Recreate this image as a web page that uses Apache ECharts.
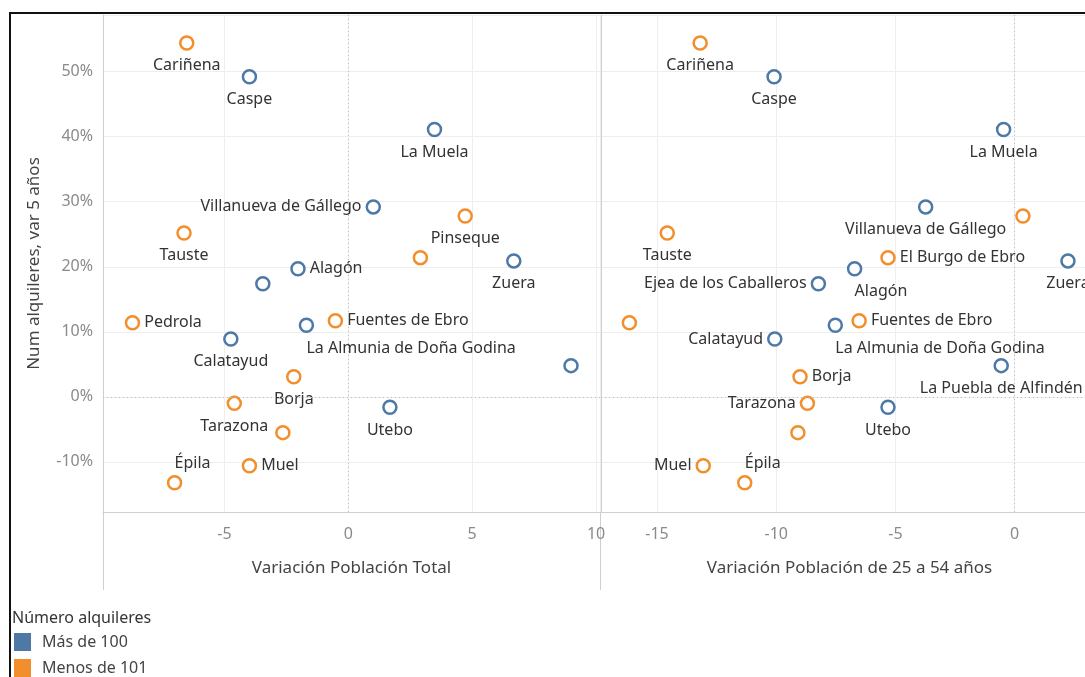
<!DOCTYPE html>
<html>
<head>
<meta charset="utf-8">
<script src="https://cdn.jsdelivr.net/npm/echarts@6/dist/echarts.min.js"></script>
<style>
  html, body { margin: 0; padding: 0; background: #fff; }
  #chart { width: 1085px; height: 677px; }
</style>
</head>
<body>
<div id="chart"></div>
<script>
// municipios y grupo de alquileres
var towns = ['Cariñena', 'Caspe', 'La Muela', 'Villanueva de Gállego', 'Pinseque', 'Tauste',
    'El Burgo de Ebro', 'Zuera', 'Alagón', 'Ejea de los Caballeros', 'Pedrola',
    'La Almunia de Doña Godina', 'Fuentes de Ebro', 'Calatayud', 'La Puebla de Alfindén',
    'Borja', 'Tarazona', 'Utebo', 'Otro municipio', 'Muel', 'Épila'];
var groups = ['Menos de 101', 'Más de 100', 'Más de 100', 'Más de 100', 'Menos de 101', 'Menos de 101',
    'Menos de 101', 'Más de 100', 'Más de 100', 'Más de 100', 'Menos de 101',
    'Más de 100', 'Menos de 101', 'Más de 100', 'Más de 100',
    'Menos de 101', 'Menos de 101', 'Más de 100', 'Menos de 101', 'Menos de 101', 'Menos de 101'];
// Variación Población Total
var popTotal = [-6.52, -3.99, 3.48, 1.01, 4.72, -6.63, 2.91, 6.68, -2.03, -3.45, -8.71,
    -1.69, -0.52, -4.74, 8.99, -2.20, -4.60, 1.68, -2.64, -3.99, -7.01];
// Variación Población de 25 a 54 años
var pop2554 = [-13.19, -10.09, -0.46, -3.73, 0.35, -14.57, -5.31, 2.24, -6.71, -8.23, -16.16,
    -7.52, -6.52, -10.06, -0.56, -9.00, -8.69, -5.31, -9.09, -13.06, -11.32];
// Num alquileres, var 5 años (%)
var rentVar = [54.4, 49.2, 41.1, 29.2, 27.8, 25.2, 21.4, 20.9, 19.7, 17.4, 11.4,
    11.0, 11.7, 8.9, 4.8, 3.1, -1.0, -1.6, -5.5, -10.6, -13.2];

// colocación de etiquetas (null = sin etiqueta)
var labelsLeft = ['bottom', 'bottom', 'bottom', 'left', 'bottom', 'bottom', null, 'bottom', 'right', null, 'right',
    'bottomStart', 'right', 'bottom', null, 'bottom', 'bottom', 'bottom', null, 'right', 'topStart'];
var labelsRight = ['bottom', 'bottom', 'bottom', 'bottom', null, 'bottom', 'right', 'bottom', 'bottomStart', 'left', null,
    'bottomStart', 'right', 'left', 'bottom', 'right', 'left', 'bottom', null, 'left', 'topStart'];

var colors = { 'Más de 100': '#4e79a7', 'Menos de 101': '#f28e2b' };
var FONT = 'Noto Sans';

function labelFor(pos) {
    if (!pos) return { show: false };
    var l = { show: true, position: pos, distance: 4 };
    if (pos === 'bottom') { l.distance = 7; }
    if (pos === 'bottomStart') { l.position = 'bottom'; l.align = 'left'; l.distance = 7; }
    if (pos === 'topStart') { l.position = 'top'; l.align = 'left'; }
    return l;
}

function makeSeries(group, xs, placements, idx) {
    var data = [];
    for (var i = 0; i < towns.length; i++) {
        if (groups[i] !== group) continue;
        data.push({ name: towns[i], value: [xs[i], rentVar[i]], label: labelFor(placements[i]) });
    }
    return {
        name: group,
        type: 'scatter',
        xAxisIndex: idx,
        yAxisIndex: idx,
        symbol: 'circle',
        symbolSize: 13,
        itemStyle: { color: '#fff', borderColor: colors[group], borderWidth: 2.5, opacity: 1 },
        label: { color: '#333', fontSize: 16, fontFamily: FONT, formatter: '{b}' },
        labelLayout: { hideOverlap: false },
        data: data,
        z: 3
    };
}

var zeroLines = {
    silent: true,
    symbol: 'none',
    label: { show: false },
    lineStyle: { color: '#bdbdbd', type: [1, 3], width: 1 },
    data: [{ xAxis: 0 }, { yAxis: 0 }]
};

var series = [
    makeSeries('Más de 100', popTotal, labelsLeft, 0),
    makeSeries('Menos de 101', popTotal, labelsLeft, 0),
    makeSeries('Más de 100', pop2554, labelsRight, 1),
    makeSeries('Menos de 101', pop2554, labelsRight, 1)
];
series[0].markLine = zeroLines;
series[2].markLine = zeroLines;

function xAxisFor(idx, name, min, max) {
    return {
        gridIndex: idx,
        type: 'value',
        min: min,
        max: max,
        minInterval: 5,
        maxInterval: 5,
        name: name,
        nameLocation: 'middle',
        nameGap: 48,
        nameTextStyle: { color: '#444', fontSize: 17, fontFamily: FONT },
        axisLine: { show: true, onZero: false, lineStyle: { color: '#cfcfcf', width: 1 } },
        axisTick: { show: false },
        axisLabel: { color: '#8a8a8a', fontSize: 16, fontFamily: FONT, margin: 14,
            showMinLabel: false, showMaxLabel: false },
        splitLine: { show: true, lineStyle: { color: '#eeeeee', width: 1 } }
    };
}

function yAxisFor(idx) {
    return {
        gridIndex: idx,
        type: 'value',
        min: -17.7,
        max: 58.7,
        minInterval: 10,
        maxInterval: 10,
        name: idx === 0 ? 'Num alquileres, var 5 años' : '',
        nameLocation: 'middle',
        nameGap: 60,
        nameTextStyle: { color: '#444', fontSize: 17, fontFamily: FONT },
        axisLine: { show: true, onZero: false, lineStyle: { color: '#cfcfcf', width: 1 } },
        axisTick: { show: false },
        axisLabel: { show: idx === 0, color: '#8a8a8a', fontSize: 16, fontFamily: FONT, margin: 10,
            showMinLabel: false, showMaxLabel: false,
            formatter: function (v) { return v + '%'; } },
        splitLine: { show: true, lineStyle: { color: '#eeeeee', width: 1 } }
    };
}

var option = {
    backgroundColor: '#fff',
    animation: false,
    grid: [
        { left: 103, right: 485, top: 15, bottom: 165, outerBoundsMode: 'none' },
        { left: 601, right: -13, top: 15, bottom: 165, outerBoundsMode: 'none' }
    ],
    xAxis: [
        xAxisFor(0, 'Variación Población Total', -9.9, 10.16),
        xAxisFor(1, 'Variación Población de 25 a 54 años', -17.35, 3.5)
    ],
    yAxis: [yAxisFor(0), yAxisFor(1)],
    legend: {
        orient: 'vertical',
        left: 14,
        top: 633,
        padding: 0,
        itemWidth: 17,
        itemHeight: 18,
        itemGap: 8,
        icon: 'rect',
        textStyle: { color: '#444', fontSize: 16, fontFamily: FONT, padding: [0, 0, 0, 6] },
        data: [
            { name: 'Más de 100', itemStyle: { color: colors['Más de 100'], borderWidth: 0 } },
            { name: 'Menos de 101', itemStyle: { color: colors['Menos de 101'], borderWidth: 0 } }
        ]
    },
    graphic: [
        { type: 'line', shape: { x1: 9, y1: 13, x2: 1085, y2: 13 }, style: { stroke: '#111', lineWidth: 2 } },
        { type: 'line', shape: { x1: 10, y1: 13, x2: 10, y2: 677 }, style: { stroke: '#111', lineWidth: 2 } },
        { type: 'line', shape: { x1: 103.5, y1: 512, x2: 103.5, y2: 590 }, style: { stroke: '#cfcfcf', lineWidth: 1 } },
        { type: 'line', shape: { x1: 600.5, y1: 15, x2: 600.5, y2: 590 }, style: { stroke: '#cfcfcf', lineWidth: 1 } },
        { type: 'text', left: 12, top: 610, style: { text: 'Número alquileres', fill: '#333', fontSize: 16, fontFamily: FONT } }
    ],
    series: series
};

echarts.init(document.getElementById('chart')).setOption(option);
</script>
</body>
</html>
